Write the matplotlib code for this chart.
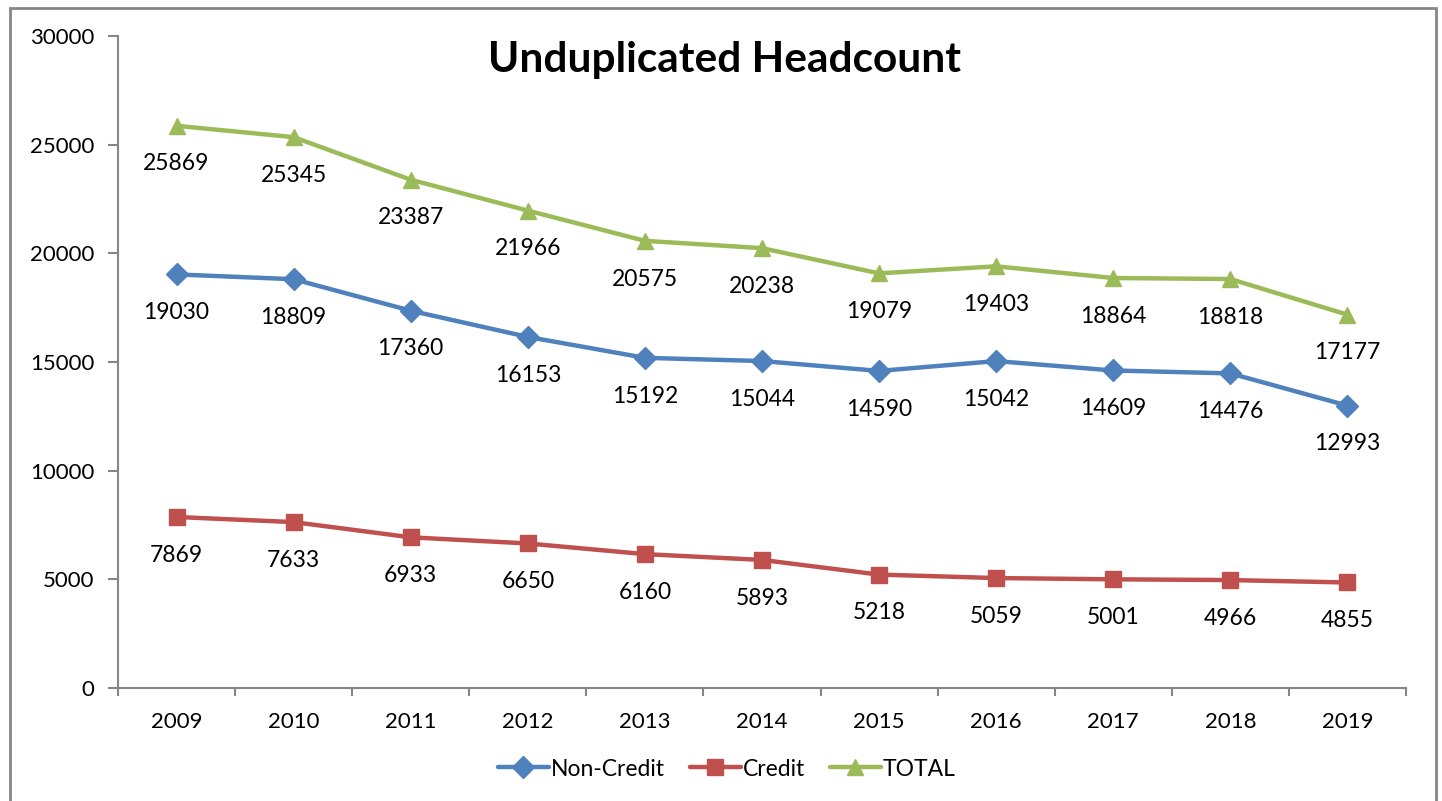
import numpy as np
import matplotlib
matplotlib.use("Agg")
import matplotlib.pyplot as plt
from matplotlib.patches import Rectangle

years = ["2009", "2010", "2011", "2012", "2013", "2014", "2015", "2016", "2017", "2018", "2019"]
non_credit = [19030, 18809, 17360, 16153, 15192, 15044, 14590, 15042, 14609, 14476, 12993]
credit = [7869, 7633, 6933, 6650, 6160, 5893, 5218, 5059, 5001, 4966, 4855]
total = [25869, 25345, 23387, 21966, 20575, 20238, 19079, 19403, 18864, 18818, 17177]

plt.rcParams['font.family'] = ['Lato', 'DejaVu Sans']

fig = plt.figure(figsize=(14.42, 8.01), dpi=100)
ax = fig.add_axes([118/1442, 1 - 688/801, 1288/1442, 652/801])

x = np.arange(len(years))
series = [
    ("Non-Credit", non_credit, "#4F81BD", "D", 11),
    ("Credit", credit, "#C0504D", "s", 11),
    ("TOTAL", total, "#9BBB59", "^", 12),
]
for name, vals, col, mk, ms in series:
    ax.plot(x, vals, color=col, lw=3.2, marker=mk, markersize=ms, label=name,
            solid_capstyle="round")
    for xi, v in zip(x, vals):
        ax.annotate(str(v), (xi, v), xytext=(0, -27.5), textcoords="offset points",
                    ha="center", va="center", fontsize=16.5, color="black")

ax.set_xlim(-0.5, len(years) - 0.5)
ax.set_ylim(0, 30000)
ax.set_yticks(np.arange(0, 30001, 5000))
ax.set_xticks(x)
ax.set_xticklabels(years)
ax.set_xticks(np.arange(-0.5, len(years), 1), minor=True)
ax.tick_params(axis="x", which="major", length=0, pad=17, labelsize=16)
ax.tick_params(axis="x", which="minor", length=6, width=1.5, color="#868686")
ax.tick_params(axis="y", length=7, width=1.5, color="#868686", pad=10, labelsize=16)

for s in ["top", "right"]:
    ax.spines[s].set_visible(False)
for s in ["left", "bottom"]:
    ax.spines[s].set_color("#868686")
    ax.spines[s].set_linewidth(1.5)

fig.text(724/1442, 1 - 60/801, "Unduplicated Headcount", ha="center", va="center",
         fontsize=30.5, fontweight="bold")

fig.legend(loc="center", bbox_to_anchor=(727/1442, 1 - 769/801), ncol=3, frameon=False,
           fontsize=16.5, handlelength=2.2, columnspacing=1.1, handletextpad=0.1)

fig.patches.append(Rectangle((10/1442, -0.01), 1426/1442, 1 - 8/801 + 0.01,
                             transform=fig.transFigure, fill=False,
                             edgecolor="#868686", lw=2))

fig.savefig("out.png", dpi=100)
